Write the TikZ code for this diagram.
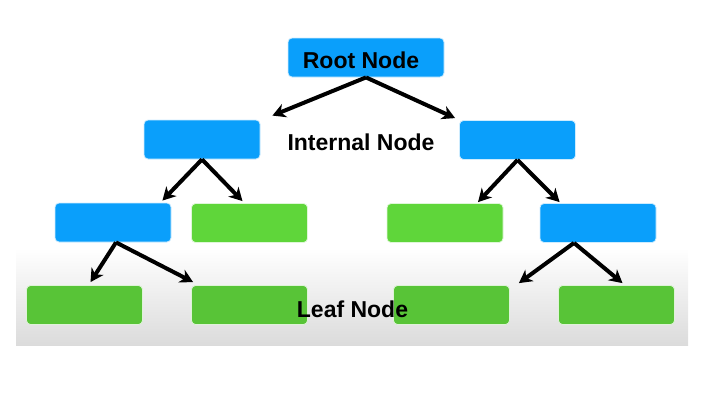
\documentclass[tikz,border=0pt]{standalone}
\usepackage{fontspec}
\setmainfont{Liberation Sans}
\usetikzlibrary{arrows.meta,calc}

\definecolor{nodeblue}{HTML}{0A9FFB}
\definecolor{nodegreen}{HTML}{5FD63A}
\definecolor{leafgreen}{HTML}{58C437}

\begin{document}
\begin{tikzpicture}[x=1pt,y=-1pt]

\def\boxw{116}
\def\boxh{39}

\tikzset{
    treebox/.style={
        draw=white!80!#1,
        fill=#1,
        line width=0.8pt,
        rounded corners=4pt,
        minimum width=\boxw pt,
        minimum height=\boxh pt,
        inner sep=0pt
    },
    label/.style={
        font=\fontsize{23}{26}\selectfont\bfseries,
        inner sep=0pt
    },
    link/.style={
        line width=4pt,
        -{Stealth[length=13pt,width=14pt,inset=4pt]}
    }
}

\useasboundingbox (0,0) rectangle (720,405);

% Shaded band behind the leaves
\shade[top color=white,bottom color=black!14] (16,248) rectangle (688,345);

% Root
\node[treebox=nodeblue,minimum width=156pt] (root) at (366,57.5) {};

% Internal nodes
\node[treebox=nodeblue] (intl) at (202,139.5) {};
\node[treebox=nodeblue] (intr) at (517.5,140) {};

% Third row
\node[treebox=nodeblue]  (lefta)  at (113,222.5) {};
\node[treebox=nodegreen] (leftb)  at (249.5,223) {};
\node[treebox=nodegreen] (rightc) at (445,223) {};
\node[treebox=nodeblue]  (rightd) at (598,223) {};

% Leaves
\foreach \name/\xpos in {leafa/84.5,leafb/249.5,leafc/451.5,leafd/616.5}{
    \node[treebox=leafgreen] (\name) at (\xpos,305) {};
}

% Connectors
\draw[link] (root.south) -- ($(intl.north east)+(12,-4)$);
\draw[link] (root.south) -- ($(intr.north west)+(-4,-2)$);
\draw[link] (intl.south) -- ($(lefta.north east)+(-9,-2)$);
\draw[link] (intl.south) -- ($(leftb.north)+(-7,-2)$);
\draw[link] (intr.south) -- ($(rightc.north)+(33,-1)$);
\draw[link] (intr.south) -- ($(rightd.north west)+(20,-1)$);
\draw[link] ($(lefta.south)+(3,0)$) -- ($(leafa.north)+(6,-3)$);
\draw[link] ($(lefta.south)+(3,0)$) -- ($(leafb.north west)+(2,-3)$);
\draw[link] ($(rightd.south)+(-24,0)$) -- ($(leafc.north east)+(9,-2)$);
\draw[link] ($(rightd.south)+(-24,0)$) -- ($(leafd.north)+(6,-2)$);

% Labels
\node[label] (rootlabel) at (361,60) {Root Node};
\node[label] (intlabel) at (361,142) {Internal Node};
\node[label] (leaflabel) at (352.5,309) {Leaf Node};

\end{tikzpicture}
\end{document}
